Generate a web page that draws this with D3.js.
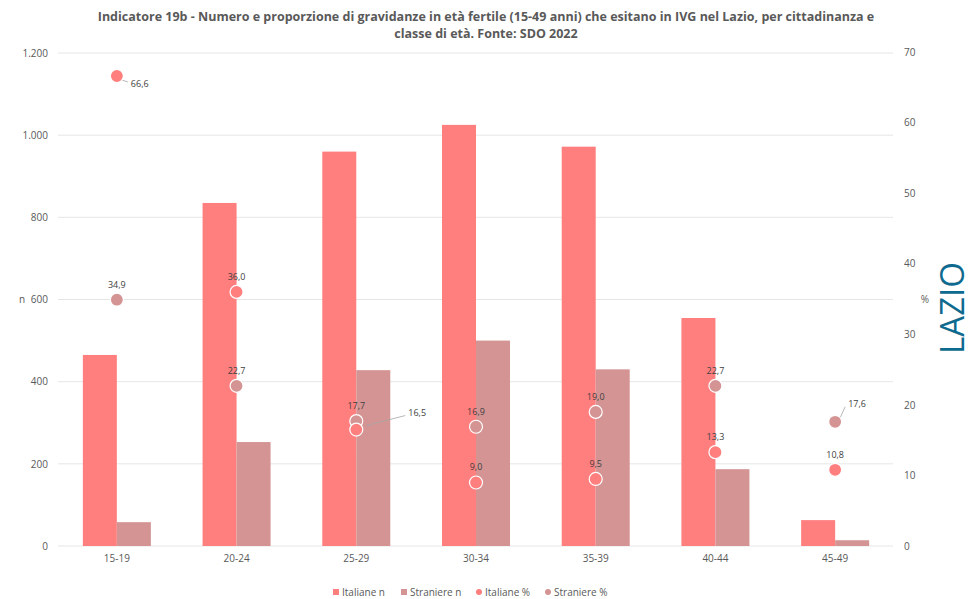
<!DOCTYPE html>
<html><head><meta charset="utf-8">
<script src="https://cdn.jsdelivr.net/npm/d3@7/dist/d3.min.js"></script>
<style>body{margin:0;background:#fff;}svg{display:block;}</style>
</head><body>
<svg id="chart" width="973" height="599"></svg>
<script>
const categories = ["15-19","20-24","25-29","30-34","35-39","40-44","45-49"];
const italianeN = [465, 835, 960, 1025, 972, 555, 63];
const stranieriN = [58, 253, 428, 500, 430, 187, 14];
const italianePct = [66.6, 36.0, 16.5, 9.0, 9.5, 13.3, 10.8];
const stranierePct = [34.9, 22.7, 17.7, 16.9, 19.0, 22.7, 17.6];
const leftTicks = [0, 200, 400, 600, 800, 1000, 1200];
const rightTicks = [0, 10, 20, 30, 40, 50, 60, 70];
const titleLines = ["Indicatore 19b - Numero e proporzione di gravidanze in età fertile (15-49 anni) che esitano in IVG nel Lazio, per cittadinanza e", "classe di età. Fonte: SDO 2022"];
const legendItems = ["Italiane n", "Straniere n", "Italiane %", "Straniere %"];

const colIt = "#FF7F7F", colSt = "#D49494";
const svg = d3.select("#chart");
const font = "'Open Sans', 'Liberation Sans', sans-serif";

const x = d3.scaleBand().domain(categories).range([57, 895]).paddingInner(0).paddingOuter(0);
const yL = d3.scaleLinear().domain([0, 1200]).range([546, 53]);
const yR = d3.scaleLinear().domain([0, 70]).range([546, 52]);
const barW = 34;

// gridlines
svg.append("g").selectAll("line").data(leftTicks).join("line")
  .attr("x1", 58).attr("x2", 893)
  .attr("y1", d => yL(d)).attr("y2", d => yL(d))
  .attr("stroke", "#e6e6e6").attr("stroke-width", 1);

// left axis
const gL = svg.append("g").attr("transform", "translate(48,0)")
  .call(d3.axisLeft(yL).tickValues(leftTicks).tickSize(0).tickPadding(0)
    .tickFormat(d => d3.format(",")(d).replace(/,/g, ".")));
gL.select(".domain").remove();
gL.selectAll("text").attr("font-family", font).attr("font-size", 10).attr("fill", "#595959");

// right axis
const gR = svg.append("g").attr("transform", "translate(904,0)")
  .call(d3.axisRight(yR).tickValues(rightTicks).tickSize(0).tickPadding(0));
gR.select(".domain").remove();
gR.selectAll("text").attr("font-family", font).attr("font-size", 10).attr("fill", "#595959");

// x axis
const gX = svg.append("g").attr("transform", "translate(0,546)")
  .call(d3.axisBottom(x).tickSize(0).tickPadding(9));
gX.select(".domain").remove();
gX.selectAll("text").attr("font-family", font).attr("font-size", 10).attr("fill", "#595959");

// bars
svg.append("g").selectAll("rect").data(italianeN).join("rect")
  .attr("x", (d, i) => x(categories[i]) + x.bandwidth() / 2 - barW)
  .attr("width", barW)
  .attr("y", d => yL(d)).attr("height", d => yL(0) - yL(d))
  .attr("fill", colIt);
svg.append("g").selectAll("rect").data(stranieriN).join("rect")
  .attr("x", (d, i) => x(categories[i]) + x.bandwidth() / 2)
  .attr("width", barW)
  .attr("y", d => yL(d)).attr("height", d => yL(0) - yL(d))
  .attr("fill", colSt);

const cx = i => x(categories[i]) + x.bandwidth() / 2;
const fmt = v => v.toFixed(1).replace(".", ",");

// special label placements with leader lines, keyed "series-category": [dx, dy]
const leaders = {"0-0": [14, 8], "0-2": [52, -17], "1-6": [13, -18]};

[[stranierePct, colSt, 1], [italianePct, colIt, 0]].forEach(([vals, col, s]) => {
  const g = svg.append("g");
  vals.forEach((v, i) => {
    const px = cx(i), py = yR(v);
    const lead = leaders[s + "-" + i];
    if (lead) {
      const [dx, dy] = lead;
      g.append("line").attr("x1", px + (dx > 20 ? 10 : 5)).attr("y1", py + (dy > 0 ? 4 : -4))
        .attr("x2", px + dx - 3).attr("y2", py + dy + (dy > 0 ? -2 : 3))
        .attr("stroke", "#a6a6a6").attr("stroke-width", 0.8);
      g.append("text").attr("x", px + dx).attr("y", py + dy + 3)
        .attr("font-family", font).attr("font-size", 9).attr("fill", "#404040")
        .text(fmt(v));
    } else {
      g.append("text").attr("x", px).attr("y", py - 12).attr("text-anchor", "middle")
        .attr("font-family", font).attr("font-size", 9).attr("fill", "#404040")
        .text(fmt(v));
    }
    g.append("circle").attr("cx", px).attr("cy", py).attr("r", 6.5)
      .attr("fill", col).attr("stroke", "#fff").attr("stroke-width", 1.2);
  });
});

// title
svg.append("g").selectAll("text").data(titleLines).join("text")
  .attr("x", 486).attr("y", (d, i) => 21 + i * 17)
  .attr("text-anchor", "middle")
  .attr("font-family", "'Open Sans', sans-serif")
  .attr("font-weight", "bold").attr("font-size", 12.5).attr("fill", "#595959")
  .text(d => d);

// axis titles
svg.append("text").attr("x", 22).attr("y", 303).attr("text-anchor", "middle")
  .attr("font-family", font).attr("font-size", 10).attr("fill", "#595959").text("n");
svg.append("text").attr("x", 925).attr("y", 303).attr("text-anchor", "middle")
  .attr("font-family", font).attr("font-size", 10).attr("fill", "#595959").text("%");

// LAZIO
svg.append("text").attr("transform", "translate(964,308) rotate(-90)")
  .attr("text-anchor", "middle")
  .attr("font-family", font).attr("font-size", 33).attr("fill", "#0E6A8E").text("LAZIO");

// legend
const legX = [336, 404, 479, 548];
const legCols = [colIt, colSt, colIt, colSt];
const lg = svg.append("g");
legendItems.forEach((t, i) => {
  if (i < 2) lg.append("rect").attr("x", legX[i] - 3).attr("y", 589).attr("width", 6).attr("height", 6).attr("fill", legCols[i]);
  else lg.append("circle").attr("cx", legX[i]).attr("cy", 592).attr("r", 3).attr("fill", legCols[i]);
  lg.append("text").attr("x", legX[i] + 6).attr("y", 595.5)
    .attr("font-family", font).attr("font-size", 10).attr("fill", "#595959").text(t);
});
</script>
</body></html>
